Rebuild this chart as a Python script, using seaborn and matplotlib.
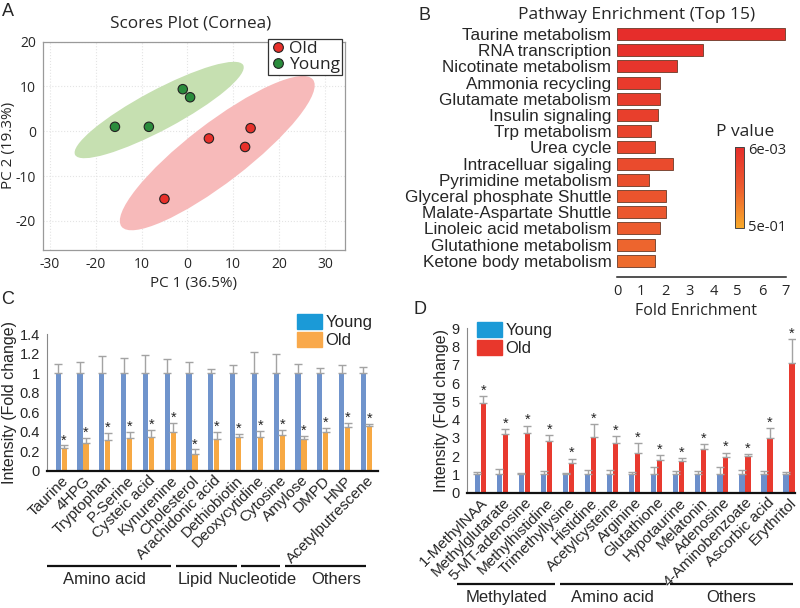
import numpy as np
import pandas as pd
import seaborn as sns
import matplotlib.pyplot as plt
from matplotlib.patches import Ellipse, Patch
from matplotlib.lines import Line2D
from matplotlib.colors import LinearSegmentedColormap, LogNorm
from matplotlib.cm import ScalarMappable

# ---------------------------------------------------------
# Data
# ---------------------------------------------------------
# A. PCA scores
young_pc1 = [-15.8, -8.4, -1.0, 0.6]
young_pc2 = [1.0, 1.0, 9.4, 7.6]
old_pc1 = [4.7, 12.6, 13.8, -5.0]
old_pc2 = [-1.6, -3.5, 0.7, -15.1]

# B. pathway enrichment
pathways = ["Taurine metabolism", "RNA transcription", "Nicotinate metabolism",
            "Ammonia recycling", "Glutamate metabolism", "Insulin signaling",
            "Trp metabolism", "Urea cycle", "Intracelluar sigaling",
            "Pyrimidine metabolism", "Glyceral phosphate Shuttle",
            "Malate-Aspartate Shuttle", "Linoleic acid metabolism",
            "Glutathione metabolism", "Ketone body metabolism"]
fold_enrich = [6.95, 3.57, 2.47, 1.8, 1.8, 1.69, 1.41, 1.59, 2.3, 1.33,
               2.01, 2.01, 1.77, 1.59, 1.59]
p_values = [0.006, 0.0075, 0.009, 0.011, 0.012, 0.014, 0.017, 0.02, 0.025,
            0.03, 0.037, 0.043, 0.052, 0.07, 0.085]

# C. decreased metabolites
c_names = ["Taurine", "4HPG", "Tryptophan", "P-Serine", "Cysteic acid",
           "Kynurenine", "Cholesterol", "Arachidonic acid", "Dethiobiotin",
           "Deoxycytidine", "Cytosine", "Amylose", "DMPD", "HNP",
           "Acetylputrescene"]
c_young = [1.0] * 15
c_young_err = [0.10, 0.12, 0.18, 0.16, 0.19, 0.15, 0.12, 0.04, 0.08,
               0.22, 0.20, 0.10, 0.05, 0.09, 0.06]
c_old = [0.23, 0.28, 0.32, 0.34, 0.35, 0.40, 0.17, 0.33, 0.35, 0.35,
         0.37, 0.33, 0.40, 0.45, 0.46]
c_old_err = [0.03, 0.06, 0.07, 0.06, 0.07, 0.09, 0.05, 0.07, 0.03, 0.06,
             0.05, 0.03, 0.04, 0.04, 0.02]
c_groups = [("Amino acid", 6), ("Lipid", 3), ("Nucleotide", 2), ("Others", 4)]

# D. increased metabolites
d_names = ["1-MethylNAA", "Methylglutarate", "5-MT-adenosine",
           "Methylhistidine", "Trimethyllysine", "Histidine", "Acetylcysteine",
           "Arginine", "Glutathione", "Hypotaurine", "Melatonin", "Adenosine",
           "4-Aminobenzoate", "Ascorbic acid", "Erythritol"]
d_young = [1.0] * 15
d_young_err = [0.13, 0.32, 0.10, 0.17, 0.10, 0.26, 0.27, 0.14, 0.40, 0.21,
               0.20, 0.38, 0.22, 0.18, 0.12]
d_old = [4.89, 3.19, 3.25, 2.81, 1.60, 3.05, 2.70, 2.20, 1.77, 1.75,
         2.39, 1.93, 2.00, 2.97, 7.08]
d_old_err = [0.40, 0.28, 0.42, 0.35, 0.26, 0.69, 0.40, 0.50, 0.27, 0.15,
             0.27, 0.26, 0.10, 0.55, 1.31]
d_groups = [("Methylated", 5), ("Amino acid", 5), ("Others", 5)]

# ---------------------------------------------------------
# Style
# ---------------------------------------------------------
sns.set_style("white")
plt.rcParams["font.family"] = ["Liberation Sans", "DejaVu Sans"]
MYR = ["Open Sans", "DejaVu Sans"]

fig = plt.figure(figsize=(8, 6.08), dpi=100)


def px(l, t, r, b):
    return [l / 800, 1 - b / 608, (r - l) / 800, (b - t) / 608]


# ---------------------------------------------------------
# A. Scores plot
# ---------------------------------------------------------
axA = fig.add_axes(px(43, 41.7, 345, 250))
pca = pd.DataFrame({
    "PC1": young_pc1 + old_pc1,
    "PC2": young_pc2 + old_pc2,
    "Group": ["Young"] * len(young_pc1) + ["Old"] * len(old_pc1),
})
ell_col = {"Young": "#c6e0b1", "Old": "#f7baba"}
pt_col = {"Old": "#e8302a", "Young": "#2a8c3c"}
for g, sub in pca.groupby("Group"):
    cov = np.cov(sub["PC1"], sub["PC2"])
    vals, vecs = np.linalg.eigh(cov)
    ang = np.degrees(np.arctan2(vecs[1, 1], vecs[0, 1]))
    w, h = 2 * 2.45 * np.sqrt(vals[1]), 2 * 2.45 * np.sqrt(vals[0])
    axA.add_patch(Ellipse((sub["PC1"].mean(), sub["PC2"].mean()), w, h, angle=ang,
                          facecolor=ell_col[g], edgecolor="none", zorder=1))
sns.scatterplot(data=pca, x="PC1", y="PC2", hue="Group", hue_order=["Old", "Young"],
                palette=pt_col, s=46, edgecolor="#222222", linewidth=0.8,
                ax=axA, zorder=3, legend=False)
axA.set_xlim(-31.5, 34.4)
axA.set_ylim(-26.5, 20)
axA.set_xticks([-30, -20, -10, 0, 10, 20, 30])
axA.set_xticklabels(["-30", "-20", "10", "0", "10", "20", "30"], family=MYR, fontsize=10)
axA.set_yticks([20, 10, 0, -10, -20])
axA.set_yticklabels(["20", "10", "0", "-10", "-20"], family=MYR, fontsize=10)
axA.grid(True, color="#e4e4e4", linestyle=":", linewidth=0.8)
axA.set_axisbelow(True)
for s in axA.spines.values():
    s.set_color("#9a9a9a")
    s.set_linewidth(0.9)
axA.tick_params(length=3, width=0.8, color="#666666", pad=2)
axA.set_xlabel("PC 1 (36.5%)", family=MYR, fontsize=11, labelpad=3)
axA.set_ylabel("PC 2 (19.3%)", family=MYR, fontsize=11, labelpad=0)
handlesA = [Line2D([], [], marker="o", ls="none", markersize=7,
                   markerfacecolor=pt_col[k], markeredgecolor="#222222",
                   markeredgewidth=0.8) for k in ["Old", "Young"]]
legA = axA.legend(handlesA, ["Old", "Young"], loc="upper right",
                  bbox_to_anchor=(0.99, 1.012), prop={"family": MYR, "size": 12.5},
                  fancybox=False, framealpha=1, edgecolor="#333333",
                  borderpad=0.1, labelspacing=0.0, handletextpad=0.15,
                  handlelength=1.0, borderaxespad=0)
legA.get_frame().set_linewidth(0.9)
fig.text(191 / 800, 1 - 24 / 608, "Scores Plot (Cornea)", family=MYR, fontsize=12.3,
         ha="center", va="center")

# ---------------------------------------------------------
# B. Pathway enrichment
# ---------------------------------------------------------
axB = fig.add_axes(px(617, 26, 786, 277))
cmap = LinearSegmentedColormap.from_list("pv", ["#e62d2b", "#ec5c2e", "#f7a92a"])
norm = LogNorm(6e-3, 5e-1)
bar_cols = [cmap(norm(p)) for p in p_values]
dfB = pd.DataFrame({"Pathway": pathways, "Fold": fold_enrich})
sns.barplot(data=dfB, y="Pathway", x="Fold", hue="Pathway", palette=bar_cols,
            orient="h", width=0.74, edgecolor="#6a3a28", linewidth=0.6,
            saturation=1, legend=False, ax=axB)
axB.set_xlim(0, 7)
axB.set_ylim(15.0, -0.5)
axB.set_xticks(range(8))
axB.set_xticklabels([str(i) for i in range(8)], family=MYR, fontsize=10.5)
axB.tick_params(axis="x", direction="in", length=6, width=1, color="#222222", pad=5)
axB.tick_params(axis="y", length=0, pad=4, labelsize=12.3)
sns.despine(ax=axB, left=True)
axB.spines["bottom"].set_color("#222222")
axB.spines["bottom"].set_linewidth(1.1)
axB.set_ylabel("")
axB.set_xlabel("")
fig.text(696 / 800, 1 - 311 / 608, "Fold Enrichment", family=MYR, fontsize=11.5,
         ha="center", va="center")
fig.text(637 / 800, 1 - 15 / 608, "Pathway Enrichment (Top 15)", family=MYR,
         fontsize=12.5, ha="center", va="center")

cax = fig.add_axes(px(735, 147, 744, 228))
cb = fig.colorbar(ScalarMappable(norm=norm, cmap=cmap), cax=cax)
cax.invert_yaxis()
cb.set_ticks([6.5e-3, 4.3e-1])
cb.set_ticklabels(["6e-03", "5e-01"])
cb.ax.minorticks_off()
cax.tick_params(length=0, pad=3)
for t in cax.get_yticklabels():
    t.set_family(MYR)
    t.set_fontsize(10.5)
cb.outline.set_edgecolor("#444444")
cb.outline.set_linewidth(0.7)
fig.text(745 / 800, 1 - 132 / 608, "P value", family=MYR, fontsize=12.5,
         ha="center", va="center")


# ---------------------------------------------------------
# C / D bar charts
# ---------------------------------------------------------
def fold_panel(ax, names, young, young_err, old, old_err, colors, ymax, yticks,
               ylabels, xlim, star_off):
    df = pd.DataFrame({
        "Metabolite": names * 2,
        "Value": young + old,
        "Group": ["Young"] * len(names) + ["Old"] * len(names),
    })
    sns.barplot(data=df, x="Metabolite", y="Value", hue="Group",
                hue_order=["Young", "Old"], palette=colors, width=0.54, gap=0.12,
                linewidth=0, saturation=1, errorbar=None, legend=False, ax=ax)
    for cont, err in zip(ax.containers, [young_err, old_err]):
        xs = [b.get_x() + b.get_width() / 2 for b in cont]
        hs = [b.get_height() for b in cont]
        ax.errorbar(xs, hs, yerr=[np.zeros(len(err)), err], fmt="none",
                    ecolor="#a3a3a3", elinewidth=1.0, capsize=2.6, capthick=1.0,
                    zorder=3)
    for b, e in zip(ax.containers[1], old_err):
        ax.text(b.get_x() + b.get_width() / 2, b.get_height() + e + star_off, "*",
                ha="center", va="center", fontsize=10.5)
    ax.set_xlim(*xlim)
    ax.set_ylim(0, ymax)
    ax.set_yticks(yticks)
    ax.set_yticklabels(ylabels, fontsize=10.5)
    ax.set_xticks(range(len(names)))
    ax.set_xticklabels(names, rotation=45, ha="right", rotation_mode="anchor",
                       fontsize=11)
    ax.tick_params(axis="x", length=0, pad=2)
    ax.tick_params(axis="y", length=3, width=0.8, color="#888888", pad=2)
    sns.despine(ax=ax)
    ax.spines["left"].set_color("#888888")
    ax.spines["left"].set_linewidth(0.8)
    ax.spines["bottom"].set_color("#111111")
    ax.spines["bottom"].set_linewidth(1.6)
    ax.set_xlabel("")
    ax.set_ylabel("Intensity (Fold change)", fontsize=11.5, labelpad=2)


def group_lines(ax, groups, shift, start_pad, end_pad, y_line, y_text, nudges):
    start_lim = ax.get_xlim()[0]
    trans = ax.get_xaxis_transform()
    idx = 0
    for k, (name, n) in enumerate(groups):
        first, last = idx, idx + n - 1
        x0 = start_lim - start_pad if k == 0 else first - 0.5 - shift + 0.1
        x1 = last + end_pad if k == len(groups) - 1 else last + 0.5 - shift - 0.1
        ax.plot([x0, x1], [y_line, y_line], color="#111111", lw=1.6,
                transform=trans, clip_on=False, solid_capstyle="butt")
        ax.text((x0 + x1) / 2 + nudges[k], y_text, name, transform=trans,
                ha="center", va="center", fontsize=12)
        idx += n


axC = fig.add_axes(px(47, 334.3, 378, 470.7))
fold_panel(axC, c_names, c_young, c_young_err, c_old, c_old_err,
           ["#7094cc", "#f7a944"], 1.4, [0, 0.2, 0.4, 0.6, 0.8, 1, 1.2, 1.4],
           ["0", "0.2", "0.4", "0.6", "0.8", "1", "1.2", "1.4"], (-0.65, 14.53), 0.05)
group_lines(axC, c_groups, 0.35, 0.0, 0.0, -0.696, -0.80, [-0.2, -0.5, -0.15, 0.5])
axC.legend([Patch(color="#1b9ad7"), Patch(color="#f9a94b")], ["Young", "Old"],
           loc="upper left", bbox_to_anchor=(297 / 800, 1 - 314 / 608),
           bbox_transform=fig.transFigure, frameon=False, fontsize=12,
           handlelength=1.5, handleheight=1.0, handletextpad=0.2,
           labelspacing=0.1, borderpad=0, borderaxespad=0)

axD = fig.add_axes(px(466.7, 328.3, 795, 492.7))
fold_panel(axD, d_names, d_young, d_young_err, d_old, d_old_err,
           ["#6c8fcb", "#e83a2f"], 9, list(range(10)),
           [str(i) for i in range(10)], (-0.62, 14.27), 0.3)
group_lines(axD, d_groups, 1.0, 0.43, 0.17, -0.555, -0.64, [0, 0, 0])
axD.legend([Patch(color="#1b9ad7"), Patch(color="#e8372c")], ["Young", "Old"],
           loc="upper left", bbox_to_anchor=(477 / 800, 1 - 322 / 608),
           bbox_transform=fig.transFigure, frameon=False, fontsize=12,
           handlelength=1.5, handleheight=1.0, handletextpad=0.2,
           labelspacing=0.1, borderpad=0, borderaxespad=0)

# panel letters
for lab, x, y in [("A", 8, 12), ("B", 424, 15), ("C", 8, 299), ("D", 420, 310)]:
    fig.text(x / 800, 1 - y / 608, lab, fontsize=13, ha="center", va="center")

fig.savefig("out.png", dpi=100)
